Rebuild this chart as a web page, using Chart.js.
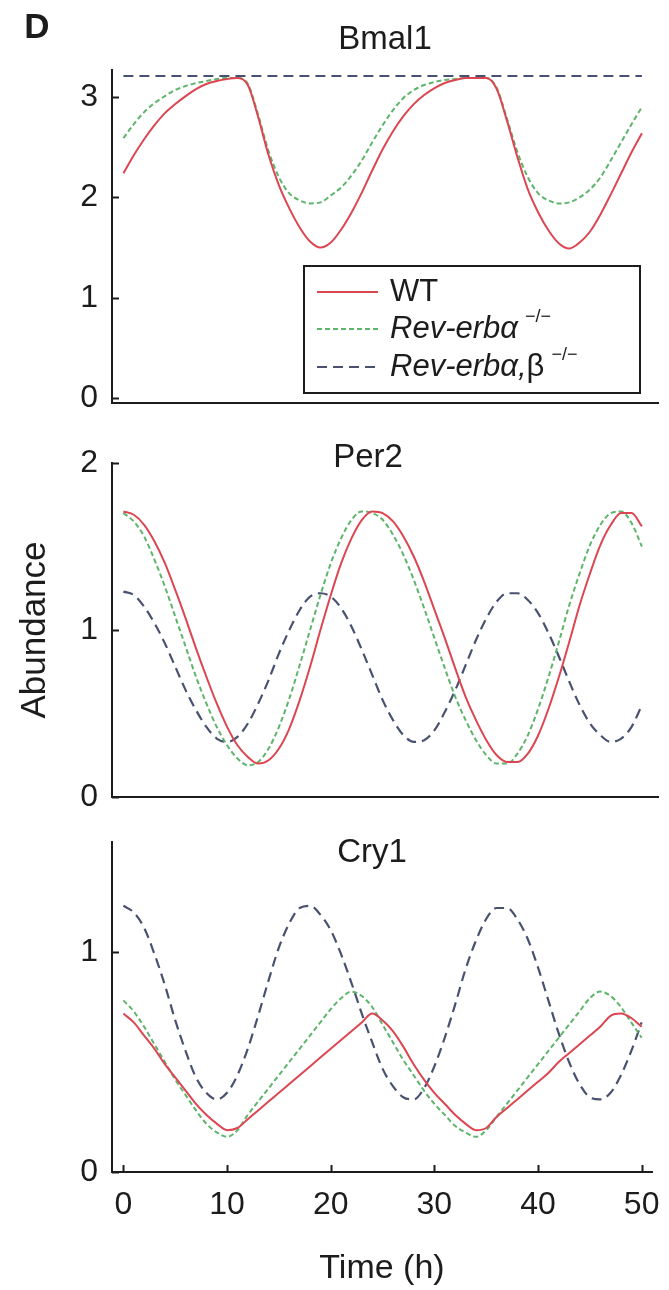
<!DOCTYPE html>
<html>
<head>
<meta charset="utf-8">
<title>Bmal1 / Per2 / Cry1</title>
<script src="https://cdn.jsdelivr.net/npm/chart.js@4.4.0/dist/chart.umd.min.js"></script>
<style>
  html, body { margin: 0; padding: 0; background: #fff; }
  #wrap { position: relative; width: 669px; height: 1290px; overflow: hidden; }
  #wrap canvas { position: absolute; left: 0; }
</style>
</head>
<body>
<div id="wrap">
  <canvas id="bmal1" width="669" height="420" style="top:0px"></canvas>
  <canvas id="per2" width="669" height="410" style="top:420px"></canvas>
  <canvas id="cry1" width="669" height="460" style="top:830px"></canvas>
</div>
<script>
// time axis (h)
const timeH = [0,1,2,3,4,5,6,7,8,9,10,11,12,13,14,15,16,17,18,19,20,21,22,23,24,25,
  26,27,28,29,30,31,32,33,34,35,36,37,38,39,40,41,42,43,44,45,46,47,48,49,50];

// Bmal1
const bmal1WT = [2.24,2.42,2.58,2.72,2.84,2.93,3.01,3.08,3.13,3.16,3.18,3.19,3.12,2.80,2.42,2.12,1.89,1.70,1.56,1.50,
  1.55,1.68,1.85,2.05,2.27,2.48,2.66,2.81,2.93,3.02,3.09,3.14,3.17,3.19,3.19,3.19,3.08,2.76,2.40,2.08,
  1.85,1.67,1.54,1.49,1.55,1.66,1.83,2.03,2.24,2.45,2.64];
const bmal1RevA = [2.59,2.73,2.85,2.94,3.01,3.07,3.11,3.14,3.16,3.18,3.19,3.19,3.13,2.82,2.46,2.20,2.04,1.97,1.94,1.95,
  2.02,2.10,2.22,2.37,2.55,2.72,2.87,2.99,3.07,3.12,3.15,3.17,3.18,3.19,3.19,3.19,3.09,2.78,2.45,2.20,
  2.04,1.97,1.94,1.95,2.00,2.08,2.20,2.37,2.55,2.73,2.90];
const bmal1RevAB = [3.21,3.21,3.21,3.21,3.21,3.21,3.21,3.21,3.21,3.21,3.21,3.21,3.21,3.21,3.21,3.21,3.21,3.21,3.21,3.21,
  3.21,3.21,3.21,3.21,3.21,3.21,3.21,3.21,3.21,3.21,3.21,3.21,3.21,3.21,3.21,3.21,3.21,3.21,3.21,3.21,
  3.21,3.21,3.21,3.21,3.21,3.21,3.21,3.21,3.21,3.21,3.21];

// Per2
const per2WT = [1.71,1.69,1.63,1.53,1.40,1.24,1.07,0.89,0.72,0.56,0.42,0.31,0.24,0.20,0.22,0.29,0.41,0.58,0.78,1.00,
  1.21,1.40,1.55,1.66,1.71,1.70,1.65,1.56,1.44,1.29,1.12,0.95,0.77,0.60,0.46,0.34,0.25,0.21,0.21,0.26,
  0.37,0.53,0.72,0.93,1.15,1.34,1.51,1.63,1.70,1.70,1.62];
const per2RevA = [1.70,1.65,1.56,1.42,1.26,1.08,0.90,0.72,0.56,0.42,0.31,0.23,0.19,0.21,0.29,0.42,0.59,0.79,1.00,1.21,
  1.40,1.55,1.66,1.71,1.70,1.66,1.57,1.45,1.30,1.13,0.95,0.77,0.60,0.46,0.34,0.25,0.20,0.20,0.26,0.37,
  0.53,0.72,0.93,1.15,1.34,1.51,1.63,1.70,1.71,1.64,1.50];
const per2RevAB = [1.23,1.21,1.14,1.04,0.92,0.78,0.64,0.52,0.42,0.35,0.33,0.36,0.44,0.56,0.70,0.86,1.00,1.12,1.20,1.22,
  1.20,1.13,1.02,0.88,0.73,0.58,0.46,0.37,0.33,0.34,0.40,0.51,0.64,0.79,0.94,1.07,1.17,1.22,1.22,1.18,
  1.10,0.98,0.84,0.69,0.55,0.44,0.37,0.33,0.35,0.42,0.55];

// Cry1
const cry1WT = [0.72,0.68,0.62,0.56,0.49,0.43,0.37,0.31,0.26,0.22,0.19,0.20,0.24,0.28,0.32,0.36,0.40,0.44,0.48,0.52,
  0.56,0.60,0.64,0.68,0.72,0.69,0.64,0.57,0.49,0.42,0.36,0.31,0.26,0.22,0.19,0.20,0.25,0.29,0.33,0.37,
  0.41,0.45,0.50,0.54,0.58,0.62,0.66,0.71,0.72,0.70,0.66];
const cry1RevA = [0.78,0.73,0.66,0.58,0.50,0.42,0.35,0.28,0.22,0.18,0.16,0.19,0.26,0.32,0.38,0.44,0.50,0.56,0.62,0.68,
  0.74,0.79,0.82,0.80,0.75,0.67,0.59,0.51,0.44,0.37,0.31,0.26,0.21,0.18,0.16,0.19,0.25,0.31,0.37,0.43,
  0.49,0.55,0.61,0.67,0.73,0.79,0.82,0.80,0.75,0.68,0.61];
const cry1RevAB = [1.21,1.18,1.11,0.99,0.85,0.69,0.55,0.43,0.36,0.33,0.36,0.44,0.56,0.71,0.87,1.02,1.13,1.20,1.21,1.17,
  1.10,0.99,0.86,0.72,0.59,0.47,0.39,0.34,0.33,0.38,0.48,0.61,0.76,0.92,1.05,1.15,1.20,1.20,1.15,1.06,
  0.93,0.78,0.63,0.50,0.40,0.34,0.33,0.36,0.44,0.55,0.68];

// axis ticks
const timeTicks = [0, 10, 20, 30, 40, 50];
const bmal1Ticks = [0, 1, 2, 3];
const per2Ticks = [0, 1, 2];
const cry1Ticks = [0, 1];

// legend text, split into styled pieces
const legendRows = [
  [{ text: 'WT' }],
  [{ text: 'Rev-erbα', italic: true }, { text: '−/−', sup: true }],
  [{ text: 'Rev-erbα,', italic: true }, { text: 'β' }, { text: '−/−', sup: true }],
];

const FONT = '"Liberation Sans", Arial, Helvetica, sans-serif';
const INK = '#1c1c1c';

Chart.defaults.font.family = FONT;
Chart.defaults.color = INK;

const lineStyles = [
  { borderColor: '#dc4651', borderWidth: 2, borderDash: [] },        // WT
  { borderColor: '#5fb46c', borderWidth: 2, borderDash: [5, 3] },    // Rev-erbα-/-
  { borderColor: '#485270', borderWidth: 2.2, borderDash: [10, 6] }, // Rev-erbα,β-/-
];

function toPoints(values) {
  return timeH.map((t, i) => ({ x: t, y: values[i] }));
}

function makeDatasets(seriesList) {
  return seriesList.map((values, i) => ({
    data: toPoints(values),
    ...lineStyles[i],
    pointRadius: 0,
    fill: false,
    cubicInterpolationMode: 'monotone',
    order: i,
  }));
}

// tick marks pointing into the plot, like the original figure
const inwardTicks = {
  id: 'inwardTicks',
  afterDraw(chart, args, opts) {
    const { ctx, chartArea: a } = chart;
    ctx.save();
    ctx.strokeStyle = INK;
    ctx.lineWidth = 2;
    const ys = chart.scales.y;
    ys.ticks.forEach(t => {
      const py = Math.round(ys.getPixelForValue(t.value)) + 0.5;
      ctx.beginPath();
      ctx.moveTo(a.left, py);
      ctx.lineTo(a.left + 7, py);
      ctx.stroke();
    });
    if (opts.x) {
      const xs = chart.scales.x;
      xs.ticks.forEach(t => {
        const px = Math.round(xs.getPixelForValue(t.value)) + 0.5;
        ctx.beginPath();
        ctx.moveTo(px, a.bottom);
        ctx.lineTo(px, a.bottom - 7);
        ctx.stroke();
      });
    }
    ctx.restore();
  }
};

// panel titles and the panel letter
const panelText = {
  id: 'panelText',
  afterDraw(chart, args, opts) {
    const ctx = chart.ctx;
    ctx.save();
    ctx.fillStyle = INK;
    ctx.textAlign = 'center';
    ctx.textBaseline = 'middle';
    (opts.items || []).forEach(it => {
      ctx.font = it.font;
      ctx.fillText(it.text, it.x, it.y);
    });
    ctx.restore();
  }
};

// boxed legend with italic / superscript labels
const boxLegend = {
  id: 'boxLegend',
  afterDraw(chart, args, opts) {
    if (!opts.show) return;
    const ctx = chart.ctx;
    const [bx, by, bw, bh] = opts.box;
    ctx.save();
    ctx.fillStyle = '#fff';
    ctx.fillRect(bx, by, bw, bh);
    ctx.strokeStyle = INK;
    ctx.lineWidth = 2;
    ctx.strokeRect(bx, by, bw, bh);
    chart.data.datasets.forEach((ds, i) => {
      const y = opts.rowY[i];
      ctx.strokeStyle = ds.borderColor;
      ctx.lineWidth = ds.borderWidth;
      ctx.setLineDash(ds.borderDash || []);
      ctx.beginPath();
      ctx.moveTo(opts.lineX[0], y);
      ctx.lineTo(opts.lineX[1], y);
      ctx.stroke();
      ctx.setLineDash([]);
      let x = opts.textX;
      ctx.fillStyle = INK;
      ctx.textAlign = 'left';
      ctx.textBaseline = 'middle';
      legendRows[i].forEach(part => {
        const size = part.sup ? opts.supSize : opts.size;
        ctx.font = (part.italic ? 'italic ' : '') + size + 'px ' + FONT;
        if (part.sup) x += 7;
        ctx.fillText(part.text, x, part.sup ? y - 12 : y);
        x += ctx.measureText(part.text).width;
      });
    });
    ctx.restore();
  }
};

function zeroPadding(s) {
  s.paddingTop = 0; s.paddingBottom = 0; s.paddingLeft = 0; s.paddingRight = 0;
}

function panel(canvasId, cfg) {
  const ctx = document.getElementById(canvasId);
  return new Chart(ctx, {
    type: 'line',
    data: { datasets: makeDatasets(cfg.series) },
    options: {
      responsive: false,
      animation: false,
      devicePixelRatio: 1,
      layout: { padding: { top: cfg.padTop, right: cfg.padRight, bottom: 0, left: 0 } },
      plugins: {
        legend: { display: false },
        tooltip: { enabled: false },
        inwardTicks: { x: cfg.showTime },
        panelText: { items: cfg.texts },
        boxLegend: cfg.legend || { show: false },
      },
      scales: {
        x: {
          type: 'linear',
          min: -1.1,
          max: cfg.xMax,
          grid: { display: false, drawTicks: false },
          border: { display: true, color: INK, width: 2 },
          afterBuildTicks: s => { s.ticks = timeTicks.map(v => ({ value: v })); },
          afterFit: s => { s.height = cfg.xHeight; zeroPadding(s); },
          ticks: {
            display: cfg.showTime,
            autoSkip: false,
            maxRotation: 0,
            padding: 14,
            color: INK,
            font: { size: 32 },
          },
          title: {
            display: cfg.showTime,
            text: 'Time (h)',
            color: INK,
            font: { size: 34 },
            padding: { top: 0, bottom: 1 },
          },
        },
        y: {
          min: cfg.yMin,
          max: cfg.yMax,
          grid: { display: false, drawTicks: false },
          border: { display: true, color: INK, width: 2 },
          afterBuildTicks: s => { s.ticks = cfg.yTicks.map(v => ({ value: v })); },
          afterFit: s => { s.width = 112; zeroPadding(s); },
          ticks: { padding: 14, color: INK, font: { size: 32 } },
          title: {
            display: !!cfg.yTitle,
            text: cfg.yTitle || '',
            color: INK,
            font: { size: 35 },
            padding: { top: 14, bottom: 0 },
          },
        },
      },
    },
    plugins: [inwardTicks, panelText, boxLegend],
  });
}

panel('bmal1', {
  series: [bmal1WT, bmal1RevA, bmal1RevAB],
  padTop: 70, padRight: 11, xHeight: 17, xMax: 51.55,
  yMin: -0.05, yMax: 3.27, yTicks: bmal1Ticks,
  showTime: false,
  texts: [
    { text: 'D', x: 37, y: 28, font: 'bold 35px ' + FONT },
    { text: 'Bmal1', x: 385, y: 40, font: '33px ' + FONT },
  ],
  legend: {
    show: true,
    box: [304, 266, 336, 127],
    rowY: [292, 329, 367],
    lineX: [317, 378],
    textX: 390,
    size: 31,
    supSize: 18,
  },
});

panel('per2', {
  series: [per2WT, per2RevA, per2RevAB],
  padTop: 43, padRight: 11, xHeight: 33, xMax: 51.55,
  yMin: 0, yMax: 2, yTicks: per2Ticks,
  showTime: false,
  yTitle: 'Abundance',
  texts: [{ text: 'Per2', x: 368, y: 38, font: '33px ' + FONT }],
});

panel('cry1', {
  series: [cry1WT, cry1RevA, cry1RevAB],
  padTop: 12, padRight: 17, xHeight: 118, xMax: 51,
  yMin: 0, yMax: 1.5, yTicks: cry1Ticks,
  showTime: true,
  texts: [{ text: 'Cry1', x: 372, y: 23, font: '33px ' + FONT }],
});
</script>
</body>
</html>
